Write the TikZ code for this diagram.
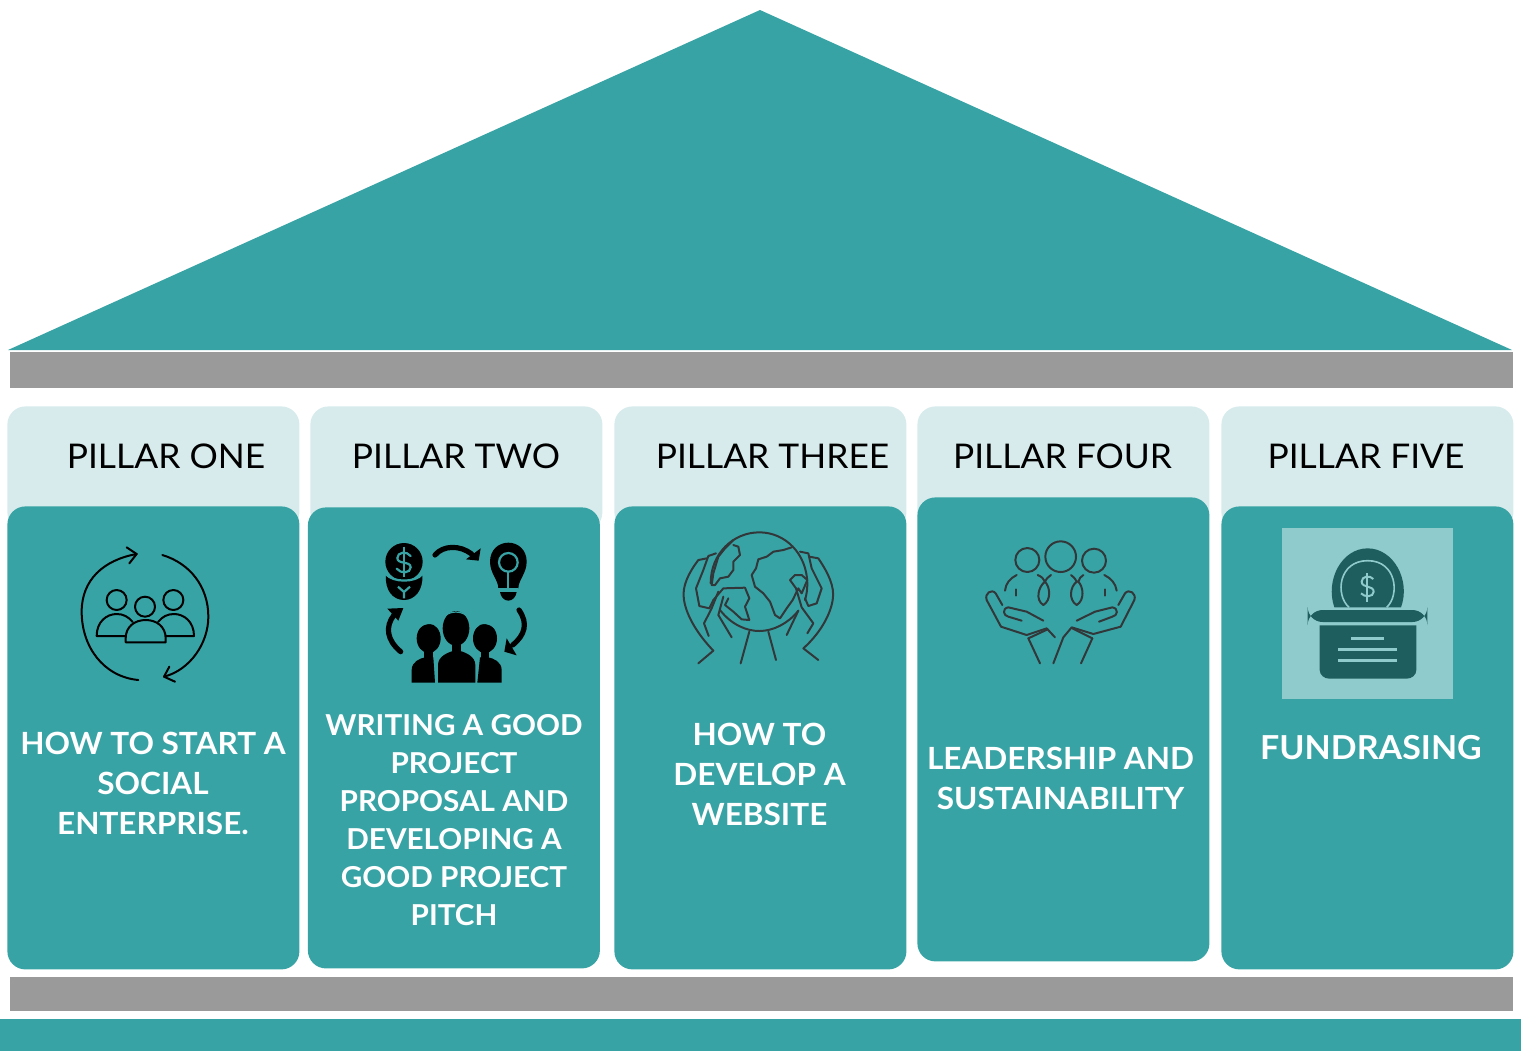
\documentclass[tikz,border=0pt]{standalone}
\usepackage{fontspec}
\setmainfont{Lato}
\newfontfamily\hdfont{Lato}[FakeStretch=1.04]
\newfontfamily\bdfont{Lato}[FakeStretch=1.03,BoldFont={Lato Bold}]
\definecolor{tealmain}{RGB}{56,163,165}
\definecolor{tealpale}{RGB}{215,235,236}
\definecolor{graybar}{RGB}{154,154,154}
\definecolor{tealsoft}{RGB}{143,203,204}
\definecolor{tealdark}{RGB}{31,94,94}
\definecolor{inkgrey}{RGB}{50,56,58}
\tikzset{
  x=0.5pt,y=-0.5pt,
  palebox/.style={fill=tealpale,rounded corners=9pt,inner sep=0pt,minimum width=146pt,minimum height=62pt,anchor=north west},
  tealbox/.style={fill=tealmain,rounded corners=9pt,inner sep=0pt,minimum width=146pt,anchor=north west},
  headtxt/.style={text=black,font=\hdfont\fontsize{17}{20}\selectfont,inner sep=0pt},
  bodytxt/.style={text=white,font=\bdfont\bfseries\fontsize{15.3}{20}\selectfont,align=center,inner sep=0pt},
  zoomed/.style={x=0.16667pt,y=-0.16667pt},
  ln/.style={line width=1pt,line cap=round,line join=round},
}
\begin{document}
\begin{tikzpicture}
\useasboundingbox (0,0) rectangle (1521,1051);
% roof and bars
\fill[tealmain] (8,350) -- (760,10) -- (1512,350) -- cycle;
\fill[graybar] (10,352) rectangle (1513,388);
\fill[graybar] (10,977) rectangle (1513,1011);
\fill[tealmain] (0,1019) rectangle (1521,1051);
% pillars
\node[palebox] (pa) at (7,406) {};
\node[palebox] (pb) at (310,406) {};
\node[palebox] (pc) at (614,406) {};
\node[palebox] (pd) at (917,406) {};
\node[palebox] (pe) at (1221,406) {};
\node[tealbox,minimum height=231.5pt] (ta) at (7,506) {};
\node[tealbox,minimum height=230.5pt] (tb) at (307.5,507) {};
\node[tealbox,minimum height=231.5pt] (tc) at (614,506) {};
\node[tealbox,minimum height=232pt] (td) at (917,497) {};
\node[tealbox,minimum height=231.5pt] (te) at (1221,506) {};
% headers
\node[headtxt] (ha) at (166,456) {PILLAR ONE};
\node[headtxt] (hb) at (456,456) {PILLAR TWO};
\node[headtxt] (hc) at (772.5,456) {PILLAR THREE};
\node[headtxt] (hd) at (1062.5,456) {PILLAR FOUR};
\node[headtxt] (he) at (1366,456) {PILLAR FIVE};
% body texts
\node[bodytxt] (ba) at (153,783) {HOW TO START A\\SOCIAL\\ENTERPRISE.};
\node[bodytxt,font=\bdfont\bfseries\fontsize{14.4}{19}\selectfont] (bb) at (454,820) {WRITING A GOOD\\PROJECT\\PROPOSAL AND\\DEVELOPING A\\GOOD PROJECT\\PITCH};
\node[bodytxt] (bc) at (759.5,774) {HOW TO\\DEVELOP A\\WEBSITE};
\node[bodytxt] (bd) at (1060.5,778) {LEADERSHIP AND\\SUSTAINABILITY};
\node[bodytxt,font=\bdfont\bfseries\fontsize{16.5}{20}\selectfont] (be) at (1371,748) {FUNDRASING};
% icon 1
\begin{scope}[shift={(60,530)},zoomed,ln,draw=black]
\draw (235,450) .. controls (130,440) and (65,350) .. (65,245) .. controls (65,150) and (130,90) .. (230,72);
\draw (200,52) -- (230,72) -- (208,100);
\draw (307,75) .. controls (390,100) and (445,170) .. (445,260) .. controls (445,340) and (390,420) .. (312,440);
\draw (345,455) -- (312,440) -- (328,410);
\draw (170,210) circle[radius=30];
\draw (255,230) circle[radius=30];
\draw (340,210) circle[radius=30];
\draw (197,337) -- (317,337) -- (317,325) .. controls (317,290) and (290,270) .. (257,270) .. controls (224,270) and (197,290) .. (197,325) -- cycle;
\draw (197,318) -- (110,318) .. controls (110,275) and (140,252) .. (170,252) .. controls (190,252) and (205,260) .. (218,276);
\draw (317,318) -- (402,318) .. controls (402,275) and (372,252) .. (342,252) .. controls (322,252) and (307,260) .. (294,276);
\end{scope}
% icon 2
\begin{scope}[shift={(370,530)},zoomed]
\fill[black] (102,95) circle[radius=56];
\fill[black] (48,135) .. controls (60,155) and (145,155) .. (157,135) .. controls (160,180) and (135,210) .. (102,210) .. controls (68,210) and (44,180) .. (48,135) -- cycle;
\draw[tealmain,line width=1.1pt,line cap=round] (122,78) .. controls (110,62) and (82,66) .. (82,84) .. controls (82,104) and (122,92) .. (122,112) .. controls (122,130) and (92,132) .. (80,116);
\draw[tealmain,line width=1.1pt] (102,50) -- (102,140);
\draw[tealmain,line width=1.1pt] (48,133) .. controls (70,158) and (135,158) .. (157,133);
\draw[tealmain,line width=1.1pt] (84,170) -- (102,186) -- (120,170) (102,186) -- (102,205);
% top arrow
\draw[black,line width=2.6pt,line cap=round] (195,75) .. controls (220,45) and (270,45) .. (305,72);
\fill[black] (332,55) -- (326,92) -- (288,88) -- cycle;
% bulb
\fill[black] (385,175) .. controls (385,150) and (360,130) .. (360,95) .. controls (360,60) and (385,38) .. (415,38) .. controls (445,38) and (470,60) .. (470,95) .. controls (470,130) and (445,150) .. (445,175) -- cycle;
\fill[black] (390,186) -- (440,186) .. controls (438,200) and (428,212) .. (415,212) .. controls (402,212) and (392,200) .. (390,186) -- cycle;
\draw[tealmain,line width=1.1pt] (415,97) circle[radius=28];
\draw[tealmain,line width=1.1pt] (415,125) -- (415,178) (385,178) -- (445,178);
% right arrow
\draw[black,line width=2.6pt,line cap=round] (447,240) .. controls (475,280) and (465,315) .. (428,345);
\fill[black] (403,365) -- (410,325) -- (440,376) -- cycle;
% left arrow
\draw[black,line width=2.6pt,line cap=round] (92,365) .. controls (50,330) and (45,290) .. (72,255);
\fill[black] (52,236) -- (100,234) -- (85,272) -- cycle;
% people
\fill[black] (125,458) -- (125,420) .. controls (125,395) and (150,385) .. (165,382) -- (190,382) -- (195,458) -- cycle;
\fill[black] (395,458) -- (395,420) .. controls (395,395) and (370,385) .. (355,382) -- (330,382) -- (322,458) -- cycle;
\fill[black] (204,458) -- (204,405) .. controls (204,378) and (235,368) .. (245,364) -- (275,364) .. controls (285,368) and (316,378) .. (316,405) -- (316,458) -- cycle;
\fill[black] (176,325) ellipse[x radius=36,y radius=44];
\fill[black] (345,325) ellipse[x radius=36,y radius=44];
\fill[black] (258,295) ellipse[x radius=40,y radius=52];
\fill[black] (245,340) rectangle (272,372);
\fill[black] (162,360) rectangle (188,390);
\fill[black] (332,360) rectangle (358,390);
\draw[tealmain,line width=.6pt] (215,270) .. controls (230,238) and (285,238) .. (300,270);
\draw[tealmain,line width=.6pt] (140,305) .. controls (150,275) and (195,275) .. (208,290);
\draw[tealmain,line width=.6pt] (312,290) .. controls (325,275) and (370,275) .. (382,305);
\draw[tealmain,line width=.5pt] (200,380) -- (200,458) (320,380) -- (320,458);
\end{scope}
% icon 3
\begin{scope}[shift={(670,520)},zoomed,ln,draw=inkgrey]
\draw (122,190) .. controls (122,100) and (190,37) .. (268,37) .. controls (345,37) and (410,100) .. (412,190) .. controls (412,205) and (410,225) .. (405,240);
\draw (150,270) .. controls (185,315) and (230,333) .. (268,333) .. controls (310,333) and (355,310) .. (385,272);
% continents
\draw (190,60) -- (165,85) -- (145,110) -- (130,160) -- (125,195) -- (135,195) -- (150,175) -- (175,170) -- (190,150) -- (190,125) -- (210,105) -- (205,80) -- (190,75);
\draw (365,82) -- (340,90) -- (310,95) -- (290,110) -- (265,118) -- (258,145) -- (245,165) -- (255,200) -- (280,220) -- (300,245) -- (315,285) -- (330,295) -- (350,265) -- (368,240) -- (385,205) -- (395,220) -- (412,180) -- (395,165) -- (375,165) -- (360,180) -- (378,205);
\draw (130,240) -- (160,205) -- (225,203) -- (238,235) -- (225,260) -- (238,300) -- (215,298) -- (190,275) -- (165,255) -- (175,235);
% left hand
\draw (110,115) -- (85,120) .. controls (55,160) and (35,200) .. (42,240) .. controls (50,290) and (85,345) .. (130,392) -- (85,430);
\draw (138,100) -- (115,108) -- (100,150) -- (78,205) -- (88,258) -- (118,265) -- (130,240);
\draw (145,215) -- (125,265) -- (102,310) -- (116,348);
\draw (160,230) -- (145,285) -- (185,352);
\draw (238,335) -- (212,430);
% right hand
\draw (418,110) -- (445,115) .. controls (475,160) and (495,200) .. (488,240) .. controls (480,290) and (445,345) .. (400,385) -- (445,420);
\draw (390,95) -- (415,100) -- (425,145) -- (455,205) -- (440,250) -- (415,258) -- (405,235);
\draw (378,205) -- (395,262) -- (430,310) -- (412,340);
\draw (385,272) -- (350,345);
\draw (295,335) -- (318,420);
\end{scope}
% icon 4
\begin{scope}[shift={(975,530)},zoomed,ln,draw=inkgrey]
\draw (157,90) circle[radius=36];
\draw (257,80) circle[radius=46];
\draw (357,92) circle[radius=36];
\draw (125,135) .. controls (105,145) and (92,160) .. (90,182);
\draw (122,178) -- (122,197);
\draw (388,135) .. controls (408,145) and (422,160) .. (425,182);
\draw (390,178) -- (390,197);
\draw (188,135) .. controls (200,140) and (205,145) .. (210,155) .. controls (190,170) and (180,210) .. (205,225) .. controls (230,210) and (225,170) .. (210,155) .. controls (215,145) and (220,140) .. (228,135);
\draw (288,135) .. controls (295,140) and (300,145) .. (305,155) .. controls (285,170) and (280,210) .. (305,225) .. controls (330,210) and (325,170) .. (310,155) .. controls (312,145) and (318,140) .. (325,135);
% left hand
\draw (78,290) -- (35,210) .. controls (28,190) and (50,175) .. (62,190) -- (82,225);
\draw (78,290) -- (155,315) -- (215,295) -- (240,322);
\draw (205,272) -- (155,245) -- (100,232) .. controls (80,235) and (85,258) .. (100,260) -- (140,272);
\draw (160,325) -- (218,298);
\draw (160,325) -- (195,400);
% right hand
\draw (437,290) -- (478,210) .. controls (485,190) and (462,175) .. (450,190) -- (430,225);
\draw (437,290) -- (355,312) -- (290,292) -- (265,322) -- (235,400);
\draw (305,272) -- (360,245) -- (412,232) .. controls (432,235) and (428,258) .. (412,260) -- (372,275);
\draw (352,325) -- (292,295);
\draw (352,325) -- (318,400);
\end{scope}
% icon 5
\node[fill=tealsoft,inner sep=0pt,minimum width=85.5pt,minimum height=85.5pt,anchor=north west] (iconbox) at (1282,528) {};
\begin{scope}[shift={(1275,520)},zoomed]
\fill[tealdark] (178,262) .. controls (150,180) and (200,85) .. (278,85) .. controls (355,85) and (408,180) .. (378,262) -- cycle;
\draw[tealsoft,line width=.8pt] (222,262) .. controls (180,225) and (190,122) .. (278,122) .. controls (365,122) and (375,225) .. (335,262);
\draw[tealsoft,line width=1pt] (295,177) .. controls (285,165) and (260,168) .. (260,185) .. controls (260,205) and (296,195) .. (296,215) .. controls (296,232) and (268,232) .. (258,220);
\draw[tealsoft,line width=1pt] (277,160) -- (277,245);
\fill[tealdark,rounded corners=7.5pt] (98,270) rectangle (457,306);
\fill[tealdark] (134,316) -- (424,316) -- (424,450) .. controls (424,465) and (410,476) .. (395,476) -- (163,476) .. controls (148,476) and (134,465) .. (134,450) -- cycle;
\draw[tealsoft,line width=1.2pt] (228,355) -- (328,355) (190,389) -- (365,389) (190,422) -- (365,422);
\end{scope}
\end{tikzpicture}
\end{document}
